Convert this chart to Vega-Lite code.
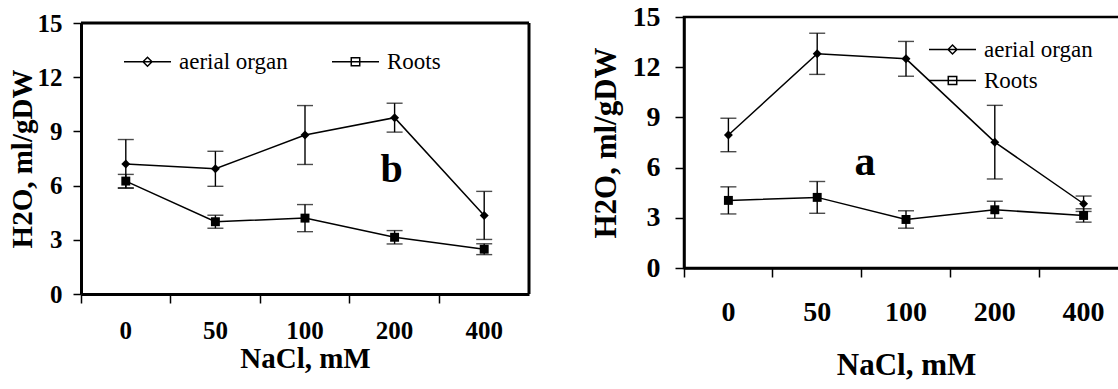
{
  "$schema": "https://vega.github.io/schema/vega-lite/v6.json",
  "background": "white",
  "padding": {"left": 8, "top": 1, "right": 0, "bottom": 0},
  "spacing": 57,
  "resolve": {"scale": {"shape": "independent"}, "legend": {"shape": "independent"}},
  "datasets": {
    "b": [
      {"series": "aerial organ", "nacl": "0", "v": 7.2, "e": 1.35},
      {"series": "aerial organ", "nacl": "50", "v": 6.93, "e": 0.97},
      {"series": "aerial organ", "nacl": "100", "v": 8.8, "e": 1.63},
      {"series": "aerial organ", "nacl": "200", "v": 9.76, "e": 0.8},
      {"series": "aerial organ", "nacl": "400", "v": 4.35, "e": 1.33},
      {"series": "Roots", "nacl": "0", "v": 6.25, "e": 0.37},
      {"series": "Roots", "nacl": "50", "v": 4.0, "e": 0.36},
      {"series": "Roots", "nacl": "100", "v": 4.2, "e": 0.75},
      {"series": "Roots", "nacl": "200", "v": 3.14, "e": 0.37},
      {"series": "Roots", "nacl": "400", "v": 2.48, "e": 0.3}
    ],
    "a": [
      {"series": "aerial organ", "nacl": "0", "v": 7.95, "e": 1.0},
      {"series": "aerial organ", "nacl": "50", "v": 12.8, "e": 1.23},
      {"series": "aerial organ", "nacl": "100", "v": 12.5, "e": 1.04},
      {"series": "aerial organ", "nacl": "200", "v": 7.52, "e": 2.2},
      {"series": "aerial organ", "nacl": "400", "v": 3.84, "e": 0.46},
      {"series": "Roots", "nacl": "0", "v": 4.04, "e": 0.81},
      {"series": "Roots", "nacl": "50", "v": 4.22, "e": 0.95},
      {"series": "Roots", "nacl": "100", "v": 2.9, "e": 0.52},
      {"series": "Roots", "nacl": "200", "v": 3.48, "e": 0.51},
      {"series": "Roots", "nacl": "400", "v": 3.14, "e": 0.4}
    ],
    "frame": [{"edge": "box"}]
  },
  "hconcat": [
    {
      "width": 448,
      "height": 277,
      "layer": [
        {
          "data": {"name": "b"},
          "mark": {"type": "errorbar", "ticks": {"size": 16, "thickness": 1.4, "color": "black"}, "rule": {"strokeWidth": 1.4, "color": "black"}},
          "encoding": {
            "x": {
              "field": "nacl", "type": "nominal",
              "scale": {"domain": ["0", "50", "100", "200", "400"], "paddingInner": 0, "paddingOuter": 0},
              "axis": {
                "title": "NaCl, mM", "titleFontSize": 29, "titlePadding": 1,
                "labelAngle": 0, "labelFontSize": 25, "labelPadding": 15,
                "bandPosition": 0, "tickSize": 9, "tickWidth": 1.5,
                "domain": true, "domainColor": "#000000", "domainWidth": 3
              }
            },
            "y": {
              "field": "v", "type": "quantitative",
              "scale": {"domain": [0, 15], "nice": false, "range": [277, 6]},
              "axis": {
                "title": "H2O, ml/gDW", "titleFontSize": 29, "titlePadding": 0,
                "values": [0, 3, 6, 9, 12, 15], "labelFontSize": 25, "labelPadding": 11,
                "tickSize": 8, "tickWidth": 1.5, "domain": true, "domainColor": "#000000", "domainWidth": 3
              }
            },
            "yError": {"field": "e"},
            "detail": {"field": "series"}
          }
        },
        {
          "data": {"name": "frame"},
          "mark": {"type": "rule", "stroke": "#000000", "strokeWidth": 3, "opacity": 1, "strokeOpacity": 1},
          "encoding": {"y": {"datum": 15, "type": "quantitative"}}
        },
        {
          "data": {"name": "frame"},
          "mark": {"type": "rule", "stroke": "#000000", "strokeWidth": 3, "opacity": 1, "strokeOpacity": 1},
          "encoding": {"x": {"datum": "400", "type": "nominal", "bandPosition": 1}, "y": {"datum": 0, "type": "quantitative"}, "y2": {"datum": 15}}
        },
        {
          "data": {"name": "b"},
          "mark": {"type": "line", "color": "black", "strokeWidth": 1.5},
          "encoding": {
            "x": {"field": "nacl", "type": "nominal"},
            "y": {"field": "v", "type": "quantitative"},
            "detail": {"field": "series"}
          }
        },
        {
          "data": {"name": "b"},
          "mark": {"type": "point", "filled": true, "color": "black", "opacity": 1, "size": 80},
          "encoding": {
            "x": {"field": "nacl", "type": "nominal"},
            "y": {"field": "v", "type": "quantitative"},
            "shape": {"condition": {"test": "datum.series === 'Roots'", "value": "square"}, "value": "diamond"}
          }
        },
        {
          "data": {"name": "b"},
          "mark": {"type": "point", "filled": false, "color": "black", "strokeWidth": 1.5, "opacity": 0, "size": 552},
          "encoding": {
            "x": {"field": "nacl", "type": "nominal"},
            "y": {"field": "v", "type": "quantitative"},
            "shape": {
              "field": "series", "type": "nominal",
              "scale": {"domain": ["aerial organ", "Roots"], "range": ["M-2,0H2M-0.38,0L0,-0.38L0.38,0L0,0.38Z", "M-2,0H2M-0.36,-0.34H0.36V0.34H-0.36Z"]},
              "legend": {
                "title": null, "orient": "none", "legendX": 54, "legendY": 32,
                "direction": "horizontal", "padding": 0,
                "symbolSize": 552, "symbolStrokeWidth": 1.5, "symbolFillColor": "black", "symbolStrokeColor": "black", "symbolOpacity": 1,
                "labelFontSize": 23, "labelFontWeight": "normal", "labelColor": "black", "labelOffset": 19,
                "columnPadding": 41,
                "encode": {"symbols": {"fill": {"value": "black"}}}
              }
            }
          }
        },
        {
          "data": {"values": [{"nacl": "200", "v": 6.2, "t": "b"}]},
          "mark": {"type": "text", "fontSize": 40, "fontWeight": "bold", "baseline": "alphabetic", "dx": -3, "color": "black"},
          "encoding": {
            "x": {"field": "nacl", "type": "nominal"},
            "y": {"field": "v", "type": "quantitative"},
            "text": {"field": "t"}
          }
        }
      ]
    },
    {
      "width": 444,
      "height": 251,
      "view": {"stroke": "black", "strokeWidth": 2.5},
      "data": {"name": "a"},
      "encoding": {
        "x": {
          "field": "nacl", "type": "nominal",
          "scale": {"domain": ["0", "50", "100", "200", "400"], "paddingInner": 0, "paddingOuter": 0},
          "axis": {
            "title": "NaCl, mM", "titleFontSize": 31, "titlePadding": 24,
            "labelAngle": 0, "labelFontSize": 28, "labelPadding": 21,
            "bandPosition": 0, "tickSize": 9, "tickWidth": 1.5,
            "domain": true, "domainColor": "black", "domainWidth": 2.5
          }
        },
        "y": {
          "field": "v", "type": "quantitative",
          "scale": {"domain": [0, 15], "nice": false},
          "axis": {
            "title": "H2O, ml/gDW", "titleFontSize": 31, "titlePadding": 10,
            "values": [0, 3, 6, 9, 12, 15], "labelFontSize": 28, "labelPadding": 15,
            "tickSize": 9, "tickWidth": 1.5, "domain": true, "domainColor": "black", "domainWidth": 2.5
          }
        }
      },
      "layer": [
        {
          "mark": {"type": "errorbar", "ticks": {"size": 16, "thickness": 1.4, "color": "black"}, "rule": {"strokeWidth": 1.4, "color": "black"}},
          "encoding": {"yError": {"field": "e"}, "detail": {"field": "series"}}
        },
        {
          "mark": {"type": "line", "color": "black", "strokeWidth": 1.5},
          "encoding": {"detail": {"field": "series"}}
        },
        {
          "mark": {"type": "point", "filled": true, "color": "black", "opacity": 1, "size": 80},
          "encoding": {
            "shape": {"condition": {"test": "datum.series === 'Roots'", "value": "square"}, "value": "diamond"}
          }
        },
        {
          "mark": {"type": "point", "filled": false, "color": "black", "strokeWidth": 1.5, "opacity": 0, "size": 552},
          "encoding": {
            "shape": {
              "field": "series", "type": "nominal",
              "scale": {"domain": ["aerial organ", "Roots"], "range": ["M-2,0H2M-0.38,0L0,-0.38L0.38,0L0,0.38Z", "M-2,0H2M-0.36,-0.34H0.36V0.34H-0.36Z"]},
              "legend": {
                "title": null, "orient": "none", "legendX": 256, "legendY": 20,
                "direction": "vertical", "padding": 0, "rowPadding": 6,
                "symbolSize": 552, "symbolStrokeWidth": 1.5, "symbolFillColor": "black", "symbolStrokeColor": "black", "symbolOpacity": 1,
                "labelFontSize": 23, "labelFontWeight": "normal", "labelColor": "black", "labelOffset": 19,
                "encode": {"symbols": {"fill": {"value": "black"}}}
              }
            }
          }
        },
        {
          "data": {"values": [{"nacl": "100", "v": 5.53, "t": "a"}]},
          "mark": {"type": "text", "fontSize": 42, "fontWeight": "bold", "baseline": "alphabetic", "dx": -41, "color": "black"},
          "encoding": {"text": {"field": "t"}}
        }
      ]
    }
  ],
  "config": {
    "font": "Liberation Serif",
    "view": {"stroke": null},
    "axis": {
      "grid": false, "labelColor": "black", "titleColor": "black", "tickColor": "black",
      "domainColor": "black", "labelFontWeight": "bold", "titleFontWeight": "bold",
      "labelFont": "Liberation Serif", "titleFont": "Liberation Serif"
    },
    "legend": {"labelFont": "Liberation Serif"},
    "title": {"font": "Liberation Serif"}
  }
}
